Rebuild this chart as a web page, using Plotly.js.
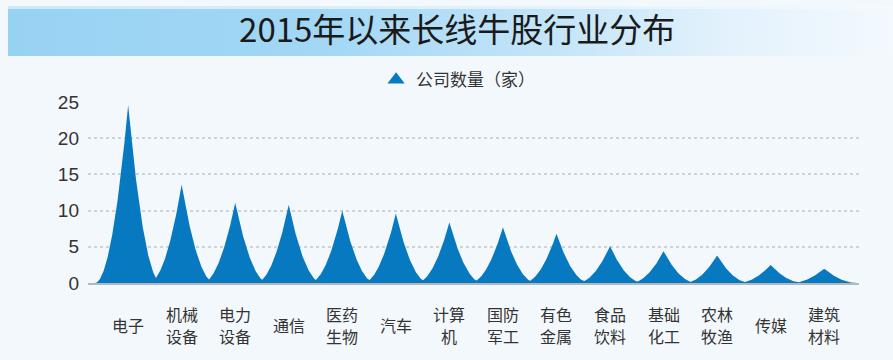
<!DOCTYPE html>
<html>
<head>
<meta charset="utf-8">
<script src="https://cdn.plot.ly/plotly-3.0.1.min.js"></script>
<style>
  html, body { margin: 0; padding: 0; background: #f3f8fd; }
  #wrap { position: relative; width: 893px; height: 360px; overflow: hidden; background: #f3f8fd; }
  #banner { position: absolute; left: 8px; top: 6px; width: 885px; height: 50px;
    background: linear-gradient(to right, #98d2f3 0%, #a2d7f5 35%, #c4e5f8 62%, #e4f2fc 82%, #f3f9fe 100%); }
  #banner:before { content: ""; position: absolute; left: 0; top: 0; right: 0; height: 3px;
    background: linear-gradient(to right, #c9e8fa 0%, #e6f4fd 70%, #f5fafe 100%); }
  #chart { position: absolute; left: 0; top: 0; width: 893px; height: 360px; }
</style>
</head>
<body>
<div id="wrap">
  <div id="banner"></div>
  <div id="chart"></div>
</div>
<script>
// ---- data ----
const categories = ["电子", "机械设备", "电力设备", "通信", "医药生物", "汽车", "计算机",
  "国防军工", "有色金属", "食品饮料", "基础化工", "农林牧渔", "传媒", "建筑材料"];
const companyCounts = [24.6, 13.6, 11.1, 10.8, 10.0, 9.6, 8.4, 7.7, 6.8, 5.1, 4.4, 3.8, 2.5, 2.0];
const yTickValues = [0, 5, 10, 15, 20, 25];
const seriesName = "公司数量（家）";
const chartTitle = "2015年以来长线牛股行业分布";

// ---- spike (pictorial) shape built from the values ----
const halfWidth = 0.62, power = 2, step = 0.005;
const sx = [], sy = [];
for (let x = -halfWidth; x <= categories.length - 1 + halfWidth + 1e-9; x += step) {
  let y = 0;
  companyCounts.forEach((v, i) => {
    const d = Math.abs(x - i);
    if (d < halfWidth) y = Math.max(y, v * Math.pow(1 - d / halfWidth, power));
  });
  sx.push(+x.toFixed(4)); sy.push(y);
}

const blue = "#0679c1";
const traces = [
  { type: "scatter", mode: "lines", x: sx, y: sy, fill: "tozeroy", fillcolor: blue,
    line: { color: blue, width: 0 }, hoverinfo: "skip", showlegend: false },
  { type: "scatter", mode: "markers", x: [null], y: [null], name: seriesName,
    marker: { symbol: "triangle-up", size: 15, color: blue }, showlegend: true }
];

// x labels (wrapped into lines of two characters)
const annotations = [];
const lineGap = 22;
categories.forEach((c, i) => {
  const lines = [];
  for (let k = 0; k < c.length; k += 2) lines.push(c.slice(k, k + 2));
  lines.forEach((ln, j) => {
    annotations.push({ x: i, y: -0.23, xref: "x", yref: "paper", text: ln, showarrow: false,
      xanchor: "center", yanchor: "middle", yshift: -(j - (lines.length - 1) / 2) * lineGap,
      font: { family: "Noto Sans CJK SC", size: 16, color: "#333333" } });
  });
});

const layout = {
  width: 893, height: 360,
  margin: { l: 88, r: 34, t: 102, b: 77, pad: 0 },
  paper_bgcolor: "rgba(0,0,0,0)", plot_bgcolor: "rgba(0,0,0,0)",
  title: { text: chartTitle, x: 0.512, xref: "container", y: 0.915, yref: "container",
    xanchor: "center", yanchor: "middle",
    font: { family: "Noto Sans CJK SC", size: 33, color: "#1a1a1a" } },
  xaxis: { range: [-0.75, 13.65], showgrid: false, zeroline: false, showticklabels: false,
    showline: true, linecolor: "#b4b8bd", linewidth: 2, ticks: "", fixedrange: true },
  yaxis: { range: [0, 25], tickvals: yTickValues, ticktext: yTickValues.map(String),
    showgrid: true, gridcolor: "#cdd3d9", gridwidth: 2, griddash: "dot", zeroline: false,
    ticks: "", ticklabelstandoff: 8, showline: false,
    tickfont: { family: "Liberation Sans, Arial", size: 19, color: "#333333" } },
  showlegend: true,
  legend: { orientation: "h", x: 0.48, xanchor: "center", y: 1.12, yanchor: "middle",
    bgcolor: "rgba(0,0,0,0)", font: { family: "Noto Sans CJK SC", size: 17, color: "#333333" } },
  annotations: annotations
};

Plotly.newPlot("chart", traces, layout, { staticPlot: true, displayModeBar: false });
</script>
</body>
</html>
